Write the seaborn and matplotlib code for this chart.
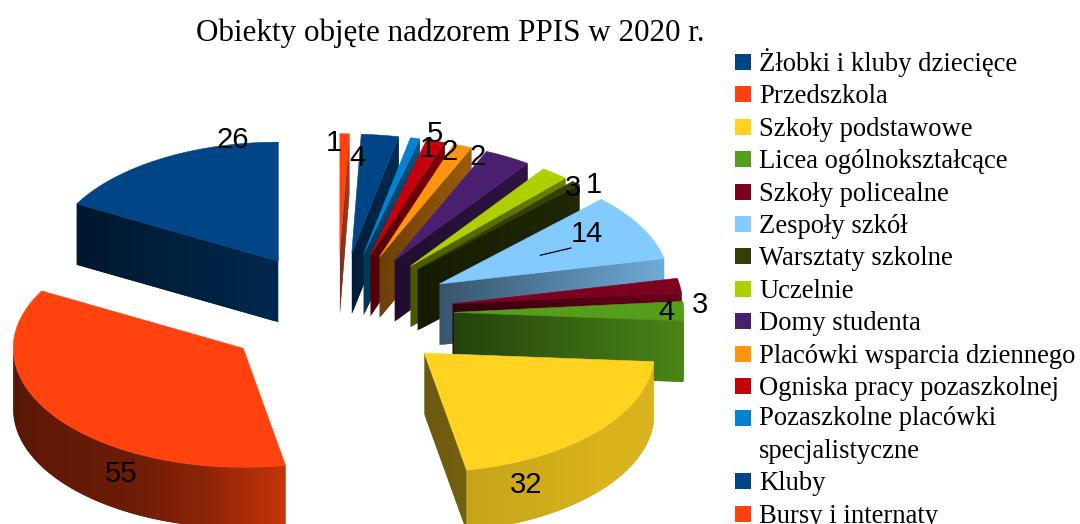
import matplotlib
matplotlib.use('Agg')
import matplotlib.pyplot as plt
from matplotlib.collections import PolyCollection
from matplotlib.patches import Polygon, Rectangle
import numpy as np
import seaborn as sns

title = 'Obiekty objęte nadzorem PPIS w 2020 r.'
categories = ['Żłobki i kluby dziecięce', 'Przedszkola', 'Szkoły podstawowe',
              'Licea ogólnokształcące', 'Szkoły policealne', 'Zespoły szkół',
              'Warsztaty szkolne', 'Uczelnie', 'Domy studenta',
              'Placówki wsparcia dziennego', 'Ogniska pracy pozaszkolnej',
              'Pozaszkolne placówki\nspecjalistyczne', 'Kluby', 'Bursy i internaty']
values = [26, 55, 32, 4, 3, 14, 1, 3, 5, 2, 2, 1, 4, 1]
colors = ['#004586', '#ff420e', '#ffd320', '#579d1c', '#7e0021', '#83caff', '#314004',
          '#aecf00', '#4b1f6f', '#ff950e', '#c5000b', '#0084d1', '#004586', '#ff420e']

# where the value labels sit, in pixels
label_x = [233, 121, 526, 666, 700, 587, 594, 573, 435, 478, 450, 428, 357, 334]
label_y = [140, 474, 485, 312, 305, 234, 185, 188, 134, 157, 152, 149, 158, 143]

# pie geometry in pixels
CX, CY = 337.5, 313
RX, RY = 230, 119
EXPLODE = 0.506
DEPTH = 61

sns.set_theme(style='white')
plt.rcParams['font.family'] = ['Liberation Serif', 'DejaVu Serif']
palette = sns.color_palette(colors)

fig = plt.figure(figsize=(10.8, 5.24), dpi=100)
ax = fig.add_axes([0, 0, 1, 1])
ax.set_xlim(0, 1080)
ax.set_ylim(524, 0)
ax.axis('off')


def plan(theta, r=1.0):
    # angle runs counter-clockwise from 12 o'clock
    t = np.radians(theta)
    return -np.sin(t) * RX * r, -np.cos(t) * RY * r


def wall_shade(theta):
    return np.interp(theta, [90, 150, 170, 190, 230, 275], [.33, .42, .55, .78, .85, .85])


def shaded(color, f):
    return tuple(c * f for c in color)


def draw_strip(xs, ys, factors, col, z):
    # each quad runs over the next one so no seams show between them
    quads, cols = [], []
    n = len(xs)
    for k in range(n - 1):
        e = min(k + 2, n - 1)
        quads.append([(xs[k], ys[k]), (xs[e], ys[e]), (xs[e], ys[e] + DEPTH), (xs[k], ys[k] + DEPTH)])
        cols.append(shaded(col, factors[k]))
    ax.add_collection(PolyCollection(quads, facecolors=cols, edgecolors='none', zorder=z))


edges = np.concatenate([[0], np.cumsum(values)]) / np.sum(values) * 360
mids = (edges[:-1] + edges[1:]) / 2
order = np.argsort(-np.cos(np.radians(mids)))

z = 1
for i in order:
    a0, a1, mid, col = edges[i], edges[i + 1], mids[i], palette[i]
    ox, oy = plan(mid, EXPLODE)
    ax_x, ax_y = CX + ox, CY + oy

    # cut faces, the ones turned to the viewer
    faces = []
    if 180 < a0 < 360:
        faces.append((a0, .42, np.interp(a0, [190, 265, 283, 317, 360], [.45, .85, .85, .62, .62])))
    if 0 < a1 < 180:
        faces.append((a1, .58, .33))
    for ang, near, far in faces:
        ex, ey = plan(ang)
        ts = np.linspace(0, 1, 61)
        draw_strip(ax_x + ex * ts, ax_y + ey * ts, near + (far - near) * ts, col, z)
        z += 1

    # outer wall, front half only
    lo, hi = max(a0, 90), min(a1, 270)
    if lo < hi:
        th = np.linspace(lo, hi, 61)
        px, py = plan(th)
        draw_strip(ax_x + px, ax_y + py, wall_shade(th), col, z)
        z += 1

    # top face
    th = np.linspace(a0, a1, 61)
    px, py = plan(th)
    pts = [(ax_x, ax_y)] + list(zip(ax_x + px, ax_y + py))
    ax.add_patch(Polygon(pts, closed=True, facecolor=col, edgecolor=col, linewidth=0.4, zorder=z))
    z += 1

# value labels
for val, lx, ly in zip(values, label_x, label_y):
    ax.text(lx, ly, str(val), ha='center', va='center', fontsize=21,
            family=['Liberation Sans', 'DejaVu Sans'], color='black', zorder=z + 1)

# leader line of Zespoły szkół: from its label to the middle of its top face
lead = categories.index('Zespoły szkół')
ox, oy = plan(mids[lead], EXPLODE)
ex, ey = plan(mids[lead], 0.5)
ax.plot([CX + ox + ex, label_x[lead] - 16], [CY + oy + ey, label_y[lead] + 14],
        color='black', lw=0.9, zorder=z + 1)

ax.text(450.5, 40.5, title, ha='center', va='baseline', fontsize=22.4, color='black')

# legend
y = 62
for name, col in zip(categories, palette):
    extra = 30.4 * name.count('\n')
    ax.add_patch(Rectangle((735, y - 8), 16, 16, facecolor=col, edgecolor='none', zorder=z))
    ax.text(759, y + 9 + extra, name, ha='left', va='baseline', fontsize=19.2, color='black',
            linespacing=1.42)
    y += 32.4 + extra

sns.despine(ax=ax, left=True, bottom=True)
fig.savefig('out.png', dpi=100)
